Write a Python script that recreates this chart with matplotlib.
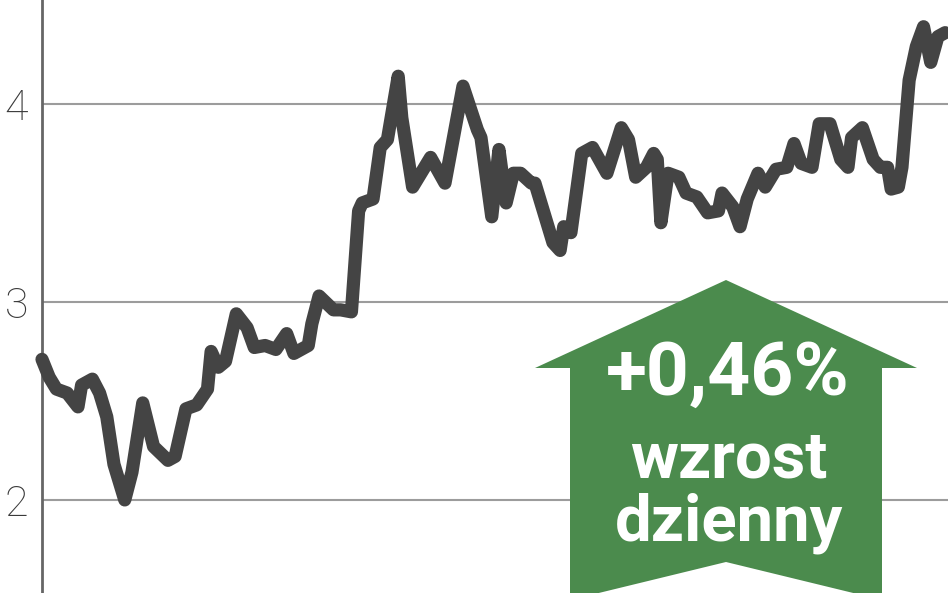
import matplotlib
matplotlib.use('Agg')
import matplotlib.pyplot as plt
from matplotlib.patches import Polygon

# session index and closing value
days = [0, 2, 4, 7, 10, 11, 14, 16, 18, 20, 23, 25, 28, 31, 35, 37, 40, 43, 46, 47,
        49, 51, 54, 57, 59, 62, 65, 68, 70, 74, 75, 77, 81, 83, 86, 88, 89, 92, 94, 96,
        99, 100, 103, 108, 112, 117, 121, 122, 125, 127, 129, 131, 133, 136, 137, 142,
        144, 145, 147, 150, 153, 157, 161, 163, 165, 168, 170, 171, 172, 174, 177, 179,
        182, 185, 188, 189, 192, 194, 196, 199, 201, 204, 207, 209, 211, 214, 216, 219,
        222, 224, 225, 228, 231, 233, 235, 236, 238, 239, 241, 243, 245, 247, 249, 251]
values = [2.71, 2.62, 2.56, 2.54, 2.47, 2.58, 2.61, 2.54, 2.42, 2.18, 2.00, 2.14, 2.49,
          2.27, 2.20, 2.22, 2.46, 2.48, 2.56, 2.75, 2.67, 2.70, 2.94, 2.87, 2.77, 2.78,
          2.76, 2.84, 2.74, 2.78, 2.89, 3.03, 2.96, 2.96, 2.95, 3.46, 3.50, 3.52, 3.78,
          3.82, 4.14, 3.93, 3.58, 3.73, 3.60, 4.09, 3.87, 3.83, 3.43, 3.77, 3.50, 3.65,
          3.65, 3.60, 3.60, 3.30, 3.26, 3.38, 3.35, 3.75, 3.78, 3.65, 3.88, 3.82, 3.63,
          3.68, 3.75, 3.72, 3.40, 3.65, 3.63, 3.55, 3.53, 3.45, 3.46, 3.55, 3.48, 3.38,
          3.52, 3.65, 3.58, 3.67, 3.68, 3.80, 3.70, 3.68, 3.90, 3.90, 3.72, 3.68, 3.83,
          3.88, 3.72, 3.68, 3.68, 3.57, 3.58, 3.68, 4.12, 4.29, 4.39, 4.21, 4.34, 4.36]
yticks = [2, 3, 4]
change_label = '+0,46%'
change_words = ['wzrost', 'dzienny']

W, H = 948, 593
fig = plt.figure(figsize=(W / 100, H / 100), dpi=100)
ax = fig.add_axes([42 / W, 0, 1 - 42 / W, 1])

ax.plot(days, values, color='#444444', lw=9.5, solid_capstyle='round',
        solid_joinstyle='round', zorder=3, clip_on=False)

ax.set_xlim(0, 251.8)
ax.set_ylim(1.53, 4.525)
ax.set_xticks([])
ax.set_yticks(yticks)
ax.set_yticklabels([str(t) for t in yticks], family='Roboto', fontweight='light',
                   fontsize=31, color='#3a3a3a')
ax.tick_params(axis='y', length=0, pad=10)
ax.yaxis.grid(True, color='#9c9c9c', lw=1.5)
ax.set_axisbelow(True)
for s in ['top', 'right', 'bottom']:
    ax.spines[s].set_visible(False)
ax.spines['left'].set_color('#666666')
ax.spines['left'].set_linewidth(2)

# green "up" arrow badge (figure pixels, y from top)
pts = [(726, 280), (917, 368), (882, 368), (882, 600), (726, 562),
       (570, 600), (570, 368), (535, 368)]
arrow = Polygon([(x / W, 1 - y / H) for x, y in pts], closed=True,
                transform=fig.transFigure, facecolor='#4b8b4d', edgecolor='none',
                zorder=5)
fig.patches.append(arrow)

fig.text(728 / W, 1 - 395 / H, change_label, ha='center', va='baseline',
         family='Roboto', fontweight='bold', fontsize=54, color='white', zorder=6)
fig.text(729 / W, 1 - 478 / H, change_words[0], ha='center', va='baseline',
         family='Roboto', fontweight='bold', fontsize=47, color='white', zorder=6)
fig.text(729 / W, 1 - 540 / H, change_words[1], ha='center', va='baseline',
         family='Roboto', fontweight='bold', fontsize=47, color='white', zorder=6)

plt.savefig('out.png', dpi=100)
plt.close()
